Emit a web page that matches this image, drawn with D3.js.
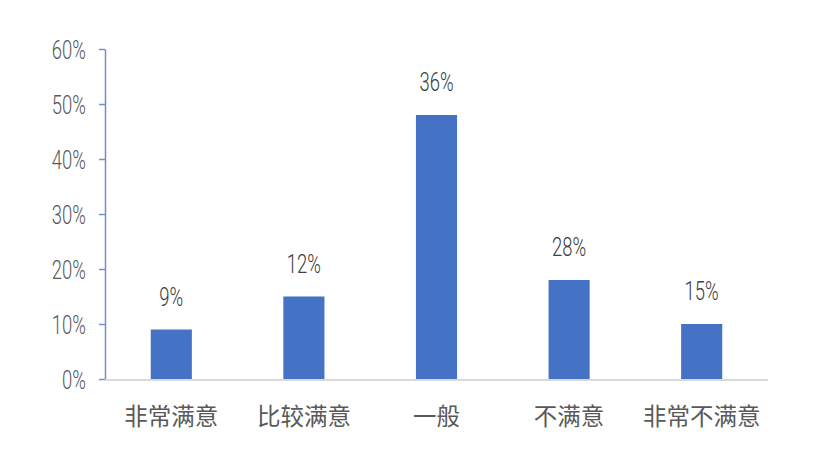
<!DOCTYPE html>
<html>
<head>
<meta charset="utf-8">
<script src="https://cdn.jsdelivr.net/npm/d3@7"></script>
<style>
  body { margin: 0; background: #fff; }
  text { font-family: Roboto, "Liberation Sans", Arial, sans-serif; font-weight: 300; }
  .cat { font-family: "Noto Sans CJK SC", sans-serif; font-weight: 400; }
</style>
</head>
<body>
<div id="chart"></div>
<script>
// data
const categories = ["非常满意", "比较满意", "一般", "不满意", "非常不满意"];
const values = [0.09, 0.15, 0.48, 0.18, 0.10];       // bar heights
const labels = ["9%", "12%", "36%", "28%", "15%"];   // printed labels
const yTicks = [0, 0.1, 0.2, 0.3, 0.4, 0.5, 0.6];

const width = 818, height = 474;
const margin = {left: 105, right: 50, top: 49, bottom: 95};
const squeeze = 0.74; // digits in the original look narrow

const svg = d3.select("#chart")
              .append("svg")
              .attr("width", width)
              .attr("height", height);

const g = svg.append("g")
             .attr("transform", "translate(" + margin.left + "," + margin.top + ")");

const plotW = width - margin.left - margin.right;
const plotH = height - margin.top - margin.bottom;

let x = d3.scaleBand()
          .domain(categories)
          .range([0, plotW])
          .paddingInner(0.69)
          .paddingOuter(0.345);

let y = d3.scaleLinear()
          .domain([0, 0.6])
          .range([plotH, 0]);

// y axis
let yAxis = g.append("g")
             .call(d3.axisLeft(y).tickValues(yTicks).tickSize(6).tickSizeOuter(0).tickFormat(d3.format(".0%")));
yAxis.select(".domain").attr("stroke", "#6f8fd0").attr("stroke-width", 1.5);
yAxis.selectAll(".tick line").attr("stroke", "#6f8fd0").attr("stroke-width", 1.5);
yAxis.selectAll(".tick text")
     .attr("x", 0)
     .attr("dy", "0.36em")
     .attr("transform", "translate(-19,0) scale(" + squeeze + ",1)")
     .attr("fill", "#595959")
     .style("font-family", "Roboto, 'Liberation Sans', Arial, sans-serif")
     .style("font-weight", 300)
     .style("font-size", "25px");

// bars
g.selectAll("rect.bar")
 .data(categories)
 .enter()
 .append("rect")
 .attr("class", "bar")
 .attr("x", function(d) { return x(d); })
 .attr("y", function(d, i) { return y(values[i]); })
 .attr("width", x.bandwidth())
 .attr("height", function(d, i) { return plotH - y(values[i]); })
 .attr("fill", "#4472c4");

// x baseline
g.append("line")
 .attr("x1", 0)
 .attr("x2", plotW)
 .attr("y1", plotH + 1)
 .attr("y2", plotH + 1)
 .attr("stroke", "#d9d9d9")
 .attr("stroke-width", 2);

// value labels
g.selectAll("text.val")
 .data(categories)
 .enter()
 .append("text")
 .attr("class", "val")
 .attr("transform", function(d, i) {
   return "translate(" + (x(d) + x.bandwidth() / 2) + "," + (y(values[i]) - 24) + ") scale(" + squeeze + ",1)";
 })
 .attr("text-anchor", "middle")
 .attr("fill", "#404040")
 .style("font-size", "25px")
 .text(function(d, i) { return labels[i]; });

// category labels
g.selectAll("text.cat")
 .data(categories)
 .enter()
 .append("text")
 .attr("class", "cat")
 .attr("x", function(d) { return x(d) + x.bandwidth() / 2; })
 .attr("y", plotH + 46)
 .attr("text-anchor", "middle")
 .attr("fill", "#595959")
 .style("font-size", "23.5px")
 .text(function(d) { return d; });
</script>
</body>
</html>
